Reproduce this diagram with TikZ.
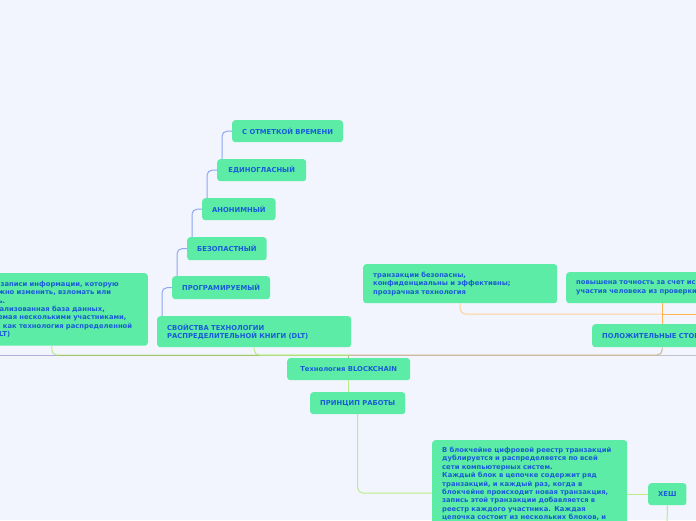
\documentclass[tikz,border=0pt]{standalone}
\usepackage{fontspec}
\setmainfont{DejaVu Sans}
\definecolor{bgpage}{HTML}{F2F5FD}
\definecolor{leafgreen}{HTML}{5CECA6}
\definecolor{inkblue}{HTML}{1A5CD8}
\definecolor{lineblue}{HTML}{8EA8F2}
\definecolor{linegreen}{HTML}{B8EE8A}
\definecolor{lineolive}{HTML}{A8C070}
\definecolor{lineorange}{HTML}{FFB450}
\definecolor{linetan}{HTML}{D2B48C}
\definecolor{linegray}{HTML}{BFC3CC}
\definecolor{linelav}{HTML}{B4ACD8}
\newcommand{\mmfont}{\fontsize{6.8}{8.4}\selectfont\bfseries}
\tikzset{
  topic/.style={fill=leafgreen, text=inkblue, rounded corners=3pt, inner xsep=10pt,
    inner ysep=0pt, minimum height=22pt, font=\mmfont, anchor=north west},
  note/.style={topic, align=left, inner ysep=8pt, minimum height=0pt},
  link/.style={line width=1pt, rounded corners=5pt},
}
\begin{document}
\begin{tikzpicture}[x=1pt, y=-1pt]
\useasboundingbox[fill=bgpage] (0,0) rectangle (696,520);
\clip (0,0) rectangle (696,520);

% left side: DLT properties
\node[note, text width=172pt, anchor=north east] (intro) at (148,273)
  {Система записи информации, которую\\невозможно изменить, взломать или\\обмануть.\\Децентрализованная база данных,\\управляемая несколькими участниками,\\известна как технология распределенной\\книги (DLT)};
\node[note, text width=174pt, minimum height=31pt, inner ysep=0pt] (dlt) at (157,316)
  {СВОЙСТВА ТЕХНОЛОГИИ\\РАСПРЕДЕЛИТЕЛЬНОЙ КНИГИ (DLT)};
\node[topic, minimum height=23pt] (prog) at (172,276) {ПРОГРАМИРУЕМЫЙ};
\node[topic, minimum height=23pt] (safe) at (187,237) {БЕЗОПАСТНЫЙ};
\node[topic] (anon) at (202,198) {АНОНИМНЫЙ};
\node[topic, minimum width=89pt] (unan) at (217,159) {ЕДИНОГЛАСНЫЙ};
\node[topic] (stamp) at (232,120) {С ОТМЕТКОЙ ВРЕМЕНИ};

% centre
\node[topic, minimum width=123pt] (tech) at (287,358) {Технология BLOCKCHAIN};
\node[topic, minimum width=95pt] (how) at (310,392) {ПРИНЦИП РАБОТЫ};

% right side: pros
\node[note, text width=174pt, minimum height=39pt, inner ysep=0pt] (good1) at (363,264)
  {транзакции безопасны,\\конфиденциальны и эффективны;\\прозрачная технология};
\node[note, text width=172pt, minimum height=31pt, inner ysep=0pt] (good2) at (566,272)
  {повышена точность за счет исключения\\участия человека из проверки};
\node[note, text width=150pt, minimum height=23pt, inner ysep=0pt] (pros) at (592,324)
  {ПОЛОЖИТЕЛЬНЫЕ СТОРОНЫ};

% bottom: how it works
\node[note, text width=175pt, inner ysep=7pt] (block) at (432,440)
  {В блокчейне цифровой реестр транзакций\\дублируется и распределяется по всей\\сети компьютерных систем.\\Каждый блок в цепочке содержит ряд\\транзакций, и каждый раз, когда в\\блокчейне происходит новая транзакция,\\запись этой транзакции добавляется в\\реестр каждого участника. Каждая\\цепочка состоит из нескольких блоков, и\\каждый блок};
\node[topic] (hash) at (648,483) {ХЕШ};

\coordinate (offleft) at (-30,355);
\coordinate (offright) at (730,355);
\coordinate (offpros) at (730,314);
\coordinate (offhash) at (667,540);

% connectors
\draw[line width=1pt, lineolive] (tech.north) -- ++(0,-3) coordinate (hub);
\draw[link, linelav] (hub) -- (offleft);
\draw[link, linegreen] (hub) -| (intro.south);
\draw[link, lineolive] (hub) -- ([xshift=5pt]intro.south |- hub);
\draw[link, linegreen] (hub) -| (dlt.south);
\draw[link, linegray] (hub) -- (offright);
\draw[link, linetan] (hub) -| (pros.south -| good2.south);

\draw[link, lineblue] ([xshift=5pt]dlt.north west) |- (prog.west);
\draw[link, lineblue] ([xshift=5pt]prog.north west) |- (safe.west);
\draw[link, lineblue] ([xshift=5pt]safe.north west) |- (anon.west);
\draw[link, lineblue] ([xshift=5pt]anon.north west) |- (unan.west);
\draw[link, lineblue] ([xshift=5pt]unan.north west) |- (stamp.west);

\draw[link, lineorange] (pros.north -| good2.south) -- (good2.south);
\draw[link, lineorange!60] ([yshift=10pt]pros.north -| good2.south) -| (good1.south);
\draw[link, lineorange] ([yshift=10pt]pros.north -| good2.south) -- (offpros);

\draw[link, linegreen] (tech.south) -- (how.north -| tech.south);
\draw[link, linegreen] (how.south) |- ([yshift=-53pt]block.north west);
\draw[link, linegreen] (block.east |- hash.west) -- (hash.west);
\draw[link, linegreen] (hash.south) -- (offhash);
\end{tikzpicture}
\end{document}
